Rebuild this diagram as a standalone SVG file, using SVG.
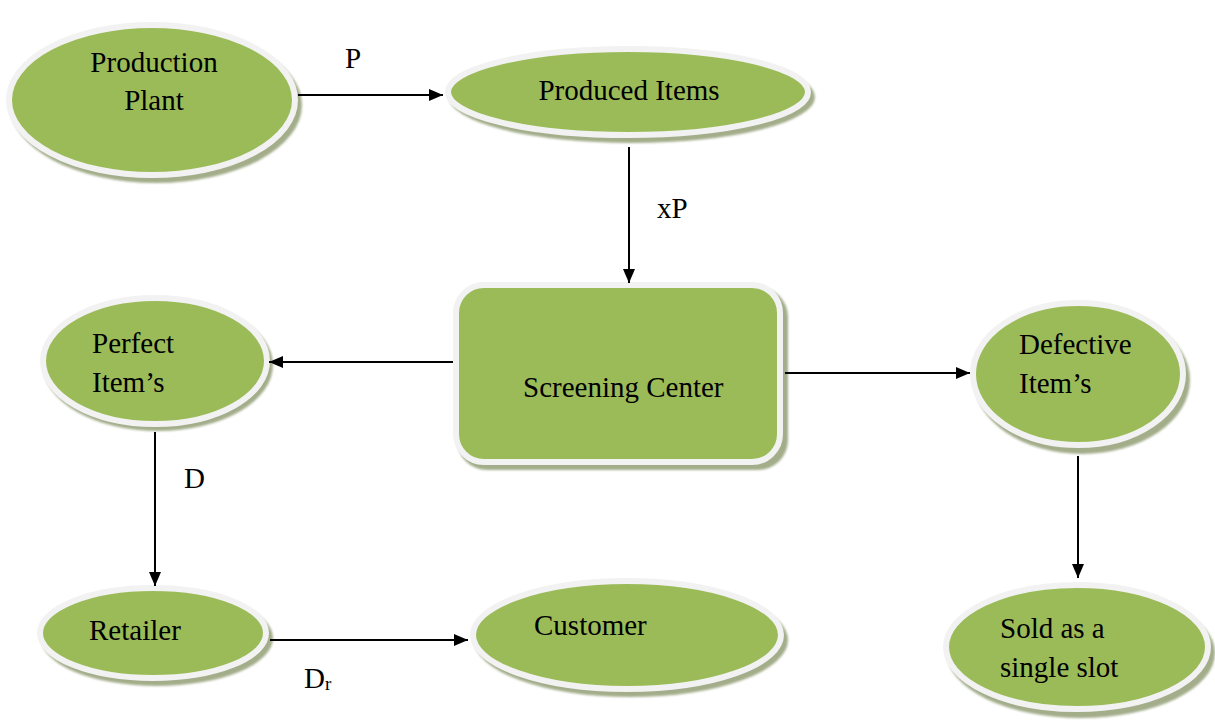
<svg xmlns="http://www.w3.org/2000/svg" width="1215" height="723" viewBox="0 0 1215 723">
  <defs>
    <marker id="arrow" viewBox="0 0 14 12" refX="14" refY="6" markerWidth="14" markerHeight="12" markerUnits="userSpaceOnUse" orient="auto">
      <path d="M0,0 L14,6 L0,12 Z" fill="#000"/>
    </marker>
    <filter id="soft" x="-10%" y="-10%" width="120%" height="120%">
      <feGaussianBlur stdDeviation="1.2"/>
    </filter>
  </defs>
  <style>
    .shadow { fill: #a3ad8a; filter: url(#soft); }
    .body { fill: #9bbb59; stroke: #f2f2f2; stroke-width: 6; }
    text { font-family: "Times New Roman", Times, "Liberation Serif", Tinos, "Nimbus Roman", "Noto Serif", "DejaVu Serif", serif; font-size: 29px; fill: #000; }
    .edge { stroke: #000; stroke-width: 2; fill: none; marker-end: url(#arrow); }
  </style>
  <rect width="1215" height="723" fill="#fff"/>

  <g id="production-plant">
    <ellipse class="shadow" cx="156" cy="105" rx="146" ry="78"/>
    <ellipse class="body" cx="152" cy="100" rx="143" ry="75"/>
    <text x="154" y="72" text-anchor="middle">Production</text>
    <text x="154" y="110" text-anchor="middle">Plant</text>
  </g>

  <g id="produced-items">
    <ellipse class="shadow" cx="632" cy="97" rx="183" ry="46"/>
    <ellipse class="body" cx="628" cy="92" rx="180" ry="43"/>
    <text x="629" y="100" text-anchor="middle">Produced Items</text>
  </g>

  <g id="screening-center">
    <rect class="shadow" x="457" y="287" width="331" height="183" rx="30"/>
    <rect class="body" x="456" y="285" width="324" height="177" rx="28"/>
    <text x="523" y="397">Screening Center</text>
  </g>

  <g id="perfect-items">
    <ellipse class="shadow" cx="158" cy="365" rx="115" ry="66"/>
    <ellipse class="body" cx="155" cy="361" rx="112" ry="63"/>
    <text x="92" y="353">Perfect</text>
    <text x="92" y="392">Item’s</text>
  </g>

  <g id="defective-items">
    <ellipse class="shadow" cx="1082" cy="380" rx="108" ry="74"/>
    <ellipse class="body" cx="1078" cy="374" rx="105" ry="71"/>
    <text x="1019" y="354">Defective</text>
    <text x="1019" y="393">Item’s</text>
  </g>

  <g id="retailer">
    <ellipse class="shadow" cx="157" cy="638" rx="116" ry="48"/>
    <ellipse class="body" cx="153" cy="633" rx="113" ry="45"/>
    <text x="89" y="640">Retailer</text>
  </g>

  <g id="customer">
    <ellipse class="shadow" cx="631" cy="640" rx="157" ry="57"/>
    <ellipse class="body" cx="627" cy="635" rx="154" ry="54"/>
    <text x="534" y="635">Customer</text>
  </g>

  <g id="sold-single-slot">
    <ellipse class="shadow" cx="1081" cy="653" rx="134" ry="65"/>
    <ellipse class="body" cx="1077" cy="647" rx="131" ry="62"/>
    <text x="1000" y="638">Sold as a</text>
    <text x="1000" y="677">single slot</text>
  </g>

  <g id="connectors">
    <line class="edge" x1="298" y1="95" x2="443" y2="95"/>
    <line class="edge" x1="629" y1="147" x2="629" y2="283"/>
    <line class="edge" x1="453" y1="362" x2="269" y2="362"/>
    <line class="edge" x1="785" y1="373" x2="970" y2="373"/>
    <line class="edge" x1="155" y1="432" x2="155" y2="586"/>
    <line class="edge" x1="270" y1="640" x2="468" y2="640"/>
    <line class="edge" x1="1078" y1="456" x2="1078" y2="578"/>
    <text x="345" y="68">P</text>
    <text x="657" y="218">xP</text>
    <text x="184" y="488">D</text>
    <text x="304" y="688">D<tspan font-size="19" dy="2">r</tspan></text>
  </g>
</svg>
